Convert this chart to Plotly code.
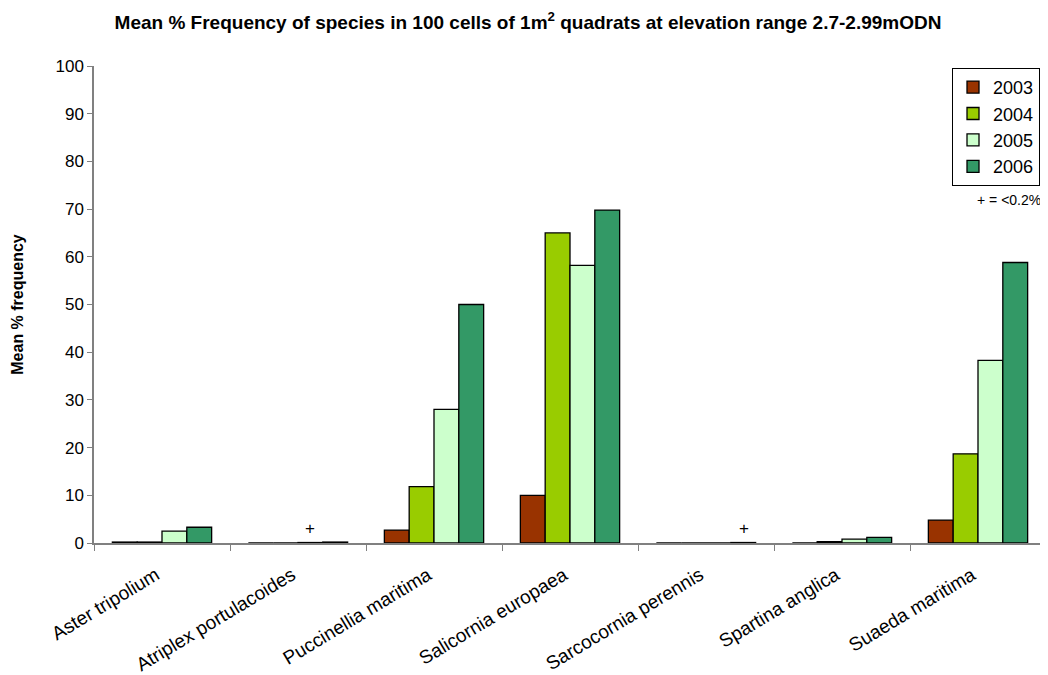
import plotly.graph_objects as go

species = ["Aster tripolium", "Atriplex portulacoides", "Puccinellia maritima",
           "Salicornia europaea", "Sarcocornia perennis", "Spartina anglica",
           "Suaeda maritima"]
years = ["2003", "2004", "2005", "2006"]
freq_2003 = [0.2, 0.0, 2.7, 10.0, 0.0, 0.0, 4.8]
freq_2004 = [0.2, 0.0, 11.8, 65.0, 0.0, 0.3, 18.7]
freq_2005 = [2.5, 0.1, 28.0, 58.2, 0.0, 0.8, 38.3]
freq_2006 = [3.3, 0.2, 50.0, 69.8, 0.1, 1.2, 58.8]
colours = ["#993300", "#99CC00", "#CCFFCC", "#339966"]

fig = go.Figure()
for yr, vals, col in zip(years, [freq_2003, freq_2004, freq_2005, freq_2006], colours):
    fig.add_trace(go.Bar(
        x=species, y=vals, name=yr,
        marker=dict(color=col, line=dict(color="black", width=1.3)),
    ))

# "+" markers for trace amounts
fig.add_annotation(x="Atriplex portulacoides", y=3.1, text="+", showarrow=False,
                   xshift=12, font=dict(size=17, color="black"))
fig.add_annotation(x="Sarcocornia perennis", y=3.1, text="+", showarrow=False,
                   xshift=38, font=dict(size=17, color="black"))
fig.add_annotation(xref="paper", yref="paper", x=1.0, y=0.719, xanchor="right",
                   yanchor="middle", xshift=-3,
                   text="+ = <0.2%", showarrow=False, font=dict(size=14, color="black"))

# page body adds an 8px margin, so the figure is 8px smaller than the window
fig.update_layout(
    width=1040, height=667,
    margin=dict(l=86, r=2, t=58, b=132),
    paper_bgcolor="white", plot_bgcolor="white",
    font=dict(family="Liberation Sans, Arial", color="black"),
    title=dict(text="<b>Mean % Frequency of species in 100 cells of 1m<sup>2</sup> quadrats at elevation range 2.7-2.99mODN</b>",
               x=0.5, xanchor="center", y=0.978, yanchor="middle", font=dict(size=19)),
    barmode="group", bargap=0.27, bargroupgap=0,
    legend=dict(x=0.9937, y=0.996, xanchor="right", yanchor="top",
                bordercolor="black", borderwidth=1, bgcolor="white",
                font=dict(size=18), itemwidth=30, tracegroupgap=2),
    showlegend=True,
)
fig.update_xaxes(
    showline=True, linecolor="#808080", linewidth=1.5,
    ticks="outside", tickson="boundaries", ticklen=6, tickcolor="#808080",
    tickangle=-31, tickfont=dict(size=19),
    ticklabelstandoff=12, ticklabelshift=-6,
    showgrid=False, automargin=False,
)
fig.update_yaxes(
    range=[0, 100], dtick=10, showline=True, linecolor="#808080", linewidth=1.5,
    ticks="outside", ticklen=5, tickcolor="#808080", tickfont=dict(size=17),
    showgrid=False, zeroline=False, automargin=False,
    title=dict(text="<b>Mean % frequency</b>", font=dict(size=16), standoff=28),
)

fig.write_html("out.html")
